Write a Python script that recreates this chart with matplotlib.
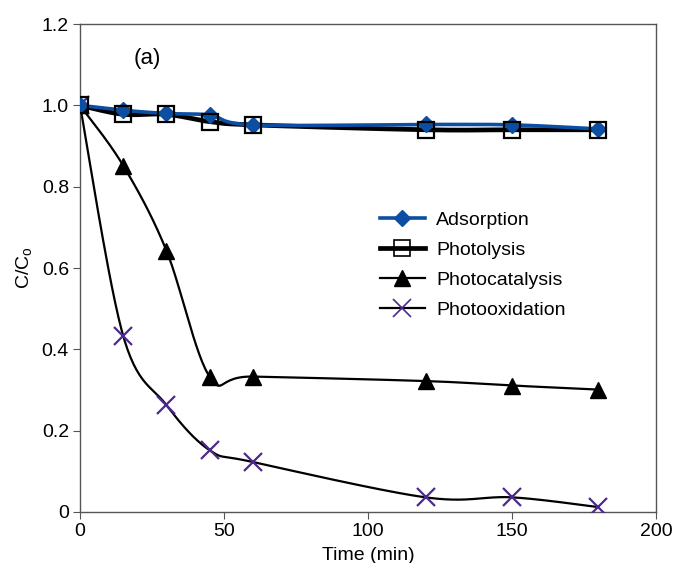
import numpy as np
import matplotlib
matplotlib.use("Agg")
import matplotlib.pyplot as plt
from matplotlib.lines import Line2D

plt.rcParams['font.family'] = ['Liberation Sans', 'DejaVu Sans']

# tiempo de muestreo (min) y C/Co para cada ensayo
time_min = [0, 15, 30, 45, 60, 120, 150, 180]
adsorption = [1.0, 0.988, 0.98, 0.976, 0.952, 0.953, 0.952, 0.942]
photolysis = [1.0, 0.978, 0.978, 0.96, 0.952, 0.94, 0.94, 0.94]
photocatalysis = [1.0, 0.852, 0.643, 0.333, 0.333, 0.322, 0.311, 0.301]
photooxidation = [1.0, 0.433, 0.263, 0.152, 0.123, 0.036, 0.036, 0.012]


def suavizar(x, y, n=30):
    # curva tipo Bezier que pasa por todos los puntos (como las lineas suavizadas de Excel)
    p = np.column_stack([x, y]).astype(float)
    pts = np.vstack([p[0], p, p[-1]])
    xs, ys = [], []
    t = np.linspace(0, 1, n)
    for i in range(1, len(pts) - 2):
        p0, p1, p2, p3 = pts[i - 1], pts[i], pts[i + 1], pts[i + 2]
        c1 = p1 + (p2 - p0) / 6
        c2 = p2 - (p3 - p1) / 6
        seg = ((1 - t) ** 3)[:, None] * p1 + (3 * (1 - t) ** 2 * t)[:, None] * c1 \
            + (3 * (1 - t) * t ** 2)[:, None] * c2 + (t ** 3)[:, None] * p2
        xs.extend(seg[:, 0])
        ys.extend(seg[:, 1])
    return np.array(xs), np.array(ys)


azul = '#0b4ea2'
morado = '#4b2a8c'

fig = plt.figure(figsize=(6.74, 5.63), dpi=100)
ax = fig.add_axes([0.1187, 0.0906, 0.8546, 0.8667])

sx, sy = suavizar(time_min, photooxidation)
ax.plot(sx, sy, color='black', lw=1.6, zorder=2)
ax.plot(time_min, photooxidation, ls='none', marker='x', ms=13, mew=1.6, color=morado, zorder=3)

sx, sy = suavizar(time_min, photocatalysis)
ax.plot(sx, sy, color='black', lw=1.6, zorder=2)
ax.plot(time_min, photocatalysis, ls='none', marker='^', ms=12, color='black', zorder=3)

sx, sy = suavizar(time_min, adsorption)
ax.plot(sx, sy, color=azul, lw=2.6, zorder=4)
ax.plot(time_min, adsorption, ls='none', marker='D', ms=8, color=azul, zorder=5)

sx, sy = suavizar(time_min, photolysis)
ax.plot(sx, sy, color='black', lw=3.4, zorder=3)
ax.plot(time_min, photolysis, ls='none', marker='s', ms=11, mfc='none', mec='black', mew=1.6, zorder=6)

ax.set_xlim(0, 200)
ax.set_ylim(0, 1.2)
ax.set_xticks([0, 50, 100, 150, 200])
ax.set_yticks([0, 0.2, 0.4, 0.6, 0.8, 1.0, 1.2])
ax.set_yticklabels(['0', '0.2', '0.4', '0.6', '0.8', '1.0', '1.2'])
for s in ax.spines.values():
    s.set_color('#555555')
    s.set_linewidth(1.0)
ax.tick_params(direction='out', length=5, color='#555555', labelsize=14, pad=3)

ax.set_xlabel('Time (min)', fontsize=14, labelpad=5)
ax.set_ylabel('C/C$_\\mathregular{o}$', fontsize=14, labelpad=5)
ax.text(23.5, 1.115, '(a)', fontsize=16, ha='center', va='center')

handles = [
    Line2D([], [], color=azul, lw=2.6, marker='D', ms=8),
    Line2D([], [], color='black', lw=3.4, marker='s', ms=11, mfc='none', mew=1.2),
    Line2D([], [], color='black', lw=1.6, marker='^', ms=12),
    Line2D([], [], color='black', lw=1.6, marker='x', ms=13, mec=morado, mew=1.2),
]
ax.legend(handles, ['Adsorption', 'Photolysis', 'Photocatalysis', 'Photooxidation'],
          loc='upper left', bbox_to_anchor=(0.507, 0.633), frameon=False, fontsize=14,
          handlelength=2.3, handletextpad=0.6, labelspacing=0.65, borderaxespad=0)

fig.savefig('out.png', dpi=100)
